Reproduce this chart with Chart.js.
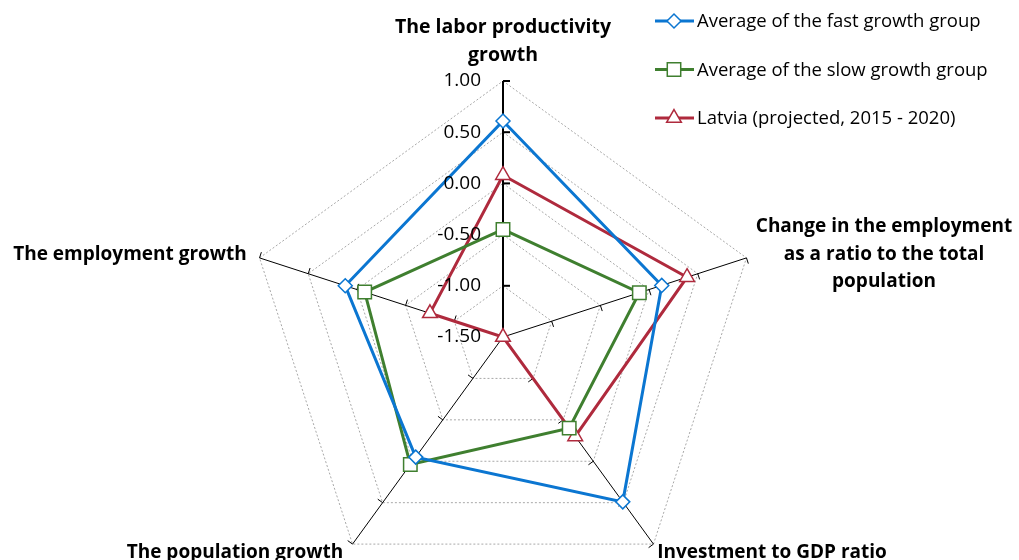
<!DOCTYPE html>
<html>
<head>
<meta charset="utf-8">
<title>Growth radar</title>
<script src="https://cdn.jsdelivr.net/npm/chart.js@4.4.1/dist/chart.umd.min.js"></script>
<style>
  html, body { margin: 0; padding: 0; background: #fff; }
  #wrap { width: 1019px; height: 560px; position: relative; }
</style>
</head>
<body>
<div id="wrap"><canvas id="radar" width="1019" height="560"></canvas></div>
<script>
// ------------------------------
// Data
// ------------------------------

const categories = [
  ["The labor productivity", "growth"],
  ["Change in the employment", "as a ratio to the total", "population"],
  ["Investment to GDP ratio"],
  ["The population growth"],
  ["The employment growth"]
];

const fastGroup = [0.61, 0.13, 0.49, -0.05, 0.12];
const slowGroup = [-0.45, -0.10, -0.40, 0.04, -0.08];
const latvia = [0.08, 0.39, -0.30, -1.50, -0.75];

const seriesNames = [
  "Average of the fast growth group",
  "Average of the slow growth group",
  "Latvia (projected, 2015 - 2020)"
];

const tickMin = -1.5;
const tickMax = 1.0;
const tickStep = 0.5;

// ------------------------------
// Style
// ------------------------------

const FONT = '"Open Sans", "Liberation Sans", sans-serif';
const BLUE = "#0B76D1";
const GREEN = "#3F7F2F";
const RED = "#AF2A3D";

// label text positions (centre of each line)
const labelSpots = [
  { x: 503, y: [27, 55] },
  { x: 884, y: [227, 255, 282] },
  { x: 772, y: [553] },
  { x: 235, y: [553] },
  { x: 130, y: [255] }
];

// ------------------------------
// Extra drawing: spoke ticks, tick labels, axis titles, legend
// ------------------------------

const excelBits = {
  id: "excelBits",
  beforeDatasetsDraw(chart) {
    const r = chart.scales.r;
    const ctx = chart.ctx;
    ctx.save();
    ctx.strokeStyle = "#000";
    r.ticks.forEach(t => {
      if (t.value === tickMin) return;
      const d = r.getDistanceFromCenterForValue(t.value);
      for (let i = 0; i < categories.length; i++) {
        const p = r.getPointPosition(i, d);
        const a = p.angle + Math.PI / 2;
        const len = i === 0 ? 7 : 6;
        ctx.lineWidth = i === 0 ? 2 : 1;
        ctx.beginPath();
        ctx.moveTo(p.x, p.y);
        ctx.lineTo(p.x + Math.cos(a) * len, p.y + Math.sin(a) * len);
        ctx.stroke();
      }
    });
    ctx.restore();
  },
  afterDraw(chart) {
    const r = chart.scales.r;
    const ctx = chart.ctx;
    ctx.save();

    // value labels on the top spoke
    ctx.fillStyle = "#000";
    ctx.font = "19px " + FONT;
    ctx.textAlign = "right";
    ctx.textBaseline = "middle";
    r.ticks.forEach(t => {
      const p = r.getPointPosition(0, r.getDistanceFromCenterForValue(t.value));
      ctx.fillText(t.value.toFixed(2), p.x - 22, p.y);
    });

    // axis titles
    ctx.textAlign = "center";
    categories.forEach((lines, i) => {
      ctx.font = (i === 0 ? "bold 19.5px " : "bold 19px ") + FONT;
      lines.forEach((txt, j) => {
        ctx.fillText(txt, labelSpots[i].x, labelSpots[i].y[j]);
      });
    });

    // legend
    ctx.font = "18.5px " + FONT;
    ctx.textAlign = "left";
    chart.data.datasets.forEach((ds, i) => {
      const y = 21 + i * 48.5;
      ctx.strokeStyle = ds.borderColor;
      ctx.lineWidth = 3;
      ctx.beginPath();
      ctx.moveTo(655, y);
      ctx.lineTo(694, y);
      ctx.stroke();
      ctx.fillStyle = "#fff";
      ctx.lineWidth = 1.5;
      Chart.helpers.drawPoint(ctx, {
        pointStyle: ds.pointStyle,
        radius: ds.pointRadius,
        rotation: 0,
        borderWidth: 1.5
      }, 674, y);
      ctx.fillStyle = "#000";
      ctx.fillText(ds.label, 697, y + 1);
    });

    ctx.restore();
  }
};

// ------------------------------
// Chart
// ------------------------------

function series(label, data, color, style, radius) {
  return {
    label: label,
    data: data,
    borderColor: color,
    backgroundColor: "#fff",
    borderWidth: 3,
    fill: false,
    tension: 0,
    pointStyle: style,
    pointRadius: radius,
    pointHoverRadius: radius,
    pointBorderWidth: 1.5,
    pointBorderColor: color,
    pointBackgroundColor: "#fff"
  };
}

new Chart(document.getElementById("radar"), {
  type: "radar",
  data: {
    labels: categories,
    datasets: [
      series(seriesNames[0], fastGroup, BLUE, "rectRot", 7),
      series(seriesNames[1], slowGroup, GREEN, "rect", 9.5),
      series(seriesNames[2], latvia, RED, "triangle", 8.5)
    ]
  },
  options: {
    responsive: false,
    animation: false,
    plugins: {
      legend: { display: false },
      tooltip: { enabled: false }
    },
    scales: {
      r: {
        min: tickMin,
        max: tickMax,
        startAngle: 0,
        ticks: { stepSize: tickStep, display: false },
        grid: { color: "#a8a8a8", lineWidth: 1 },
        border: { dash: [2, 2] },
        angleLines: {
          color: "#000",
          lineWidth: c => (c.index === 0 ? 2 : 1)
        },
        pointLabels: { display: false },
        afterFit(scale) {
          scale.xCenter = 503;
          scale.yCenter = 337;
          scale.drawingArea = 256;
        }
      }
    }
  },
  plugins: [excelBits]
});
</script>
</body>
</html>
